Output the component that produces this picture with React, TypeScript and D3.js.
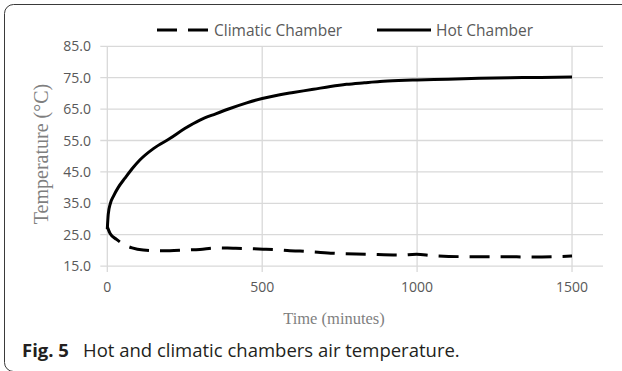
import React, { useEffect, useRef } from 'react';
import * as d3 from 'd3';

// time (minutes) and air temperature (°C)
const hotTime = [0, 3, 10, 20, 35, 57, 80, 105, 150, 203, 250, 299, 350, 396, 450, 500, 557, 600, 665, 720, 772, 830, 880, 940, 1000, 1100, 1200, 1300, 1400, 1500];
const hotTemp = [26.8, 31.5, 35, 37.3, 40, 43, 46, 48.8, 52.5, 55.7, 58.8, 61.5, 63.5, 65.2, 67, 68.4, 69.6, 70.3, 71.3, 72.2, 72.9, 73.4, 73.8, 74.1, 74.3, 74.5, 74.8, 75, 75.1, 75.2];

const climTime = [0, 9, 30, 57, 80, 116, 160, 202, 250, 299, 350, 406, 450, 503, 550, 589, 622, 680, 729, 837, 945, 998, 1052, 1160, 1268, 1375, 1500];
const climTemp = [27.5, 25.4, 23.5, 21.7, 20.8, 20.1, 19.9, 19.9, 20.1, 20.3, 20.8, 20.7, 20.6, 20.4, 20.2, 19.9, 19.8, 19.4, 19.1, 18.8, 18.5, 18.8, 18.3, 18.0, 18.0, 17.9, 18.2];

const yTicks = [15, 25, 35, 45, 55, 65, 75, 85];
const xTicks = [0, 500, 1000, 1500];
const seriesNames = ['Climatic Chamber', 'Hot Chamber'];

const W = 622;
const H = 371;

const App = () => {
  const ref = useRef<SVGSVGElement>(null);

  useEffect(() => {
    const svg = d3.select(ref.current);
    svg.selectAll('*').remove();

    const x = d3.scaleLinear().domain([0, 1600]).range([107.3, 603]);
    const y = d3.scaleLinear().domain([15, 85]).range([266.1, 46.3]);
    const grid = '#d9d9d9';
    const tickFont = "'Open Sans', sans-serif";

    // frame
    svg.append('rect')
      .attr('x', 4.5).attr('y', 4.5)
      .attr('width', 640).attr('height', 367)
      .attr('rx', 9)
      .attr('fill', 'none').attr('stroke', '#3a3a3a').attr('stroke-width', 1);

    // horizontal gridlines with small ticks on the left
    svg.append('g').selectAll('line')
      .data(yTicks).enter().append('line')
      .attr('x1', x(0) - 7).attr('x2', x(1600))
      .attr('y1', d => y(d)).attr('y2', d => y(d))
      .attr('stroke', grid).attr('stroke-width', 1.3);

    // vertical gridlines with ticks below
    svg.append('g').selectAll('line')
      .data(xTicks).enter().append('line')
      .attr('x1', d => x(d)).attr('x2', d => x(d))
      .attr('y1', y(85)).attr('y2', y(15) + 6)
      .attr('stroke', grid).attr('stroke-width', 1.3);

    // tick labels
    svg.append('g').selectAll('text')
      .data(yTicks).enter().append('text')
      .attr('x', 91).attr('y', d => y(d))
      .attr('dy', '0.36em')
      .attr('text-anchor', 'end')
      .style('font-family', tickFont).style('font-size', '14px')
      .attr('fill', '#595959')
      .text(d => d3.format('.1f')(d));

    svg.append('g').selectAll('text')
      .data(xTicks).enter().append('text')
      .attr('x', d => x(d)).attr('y', 287)
      .attr('dy', '0.36em')
      .attr('text-anchor', 'middle')
      .style('font-family', tickFont).style('font-size', '14px')
      .attr('fill', '#595959')
      .text(d => String(d));

    // axis titles
    svg.append('text')
      .attr('x', 334).attr('y', 318).attr('dy', '0.35em')
      .attr('text-anchor', 'middle')
      .style('font-family', "'Liberation Serif', serif").style('font-size', '16.5px')
      .attr('fill', '#7f7f7f')
      .text('Time (minutes)');

    svg.append('text')
      .attr('transform', 'translate(41,154) rotate(-90)')
      .attr('dy', '0.35em')
      .attr('text-anchor', 'middle')
      .style('font-family', "'Liberation Serif', serif").style('font-size', '20px')
      .attr('fill', '#7f7f7f')
      .text('Temperature (°C)');

    const line = d3.line<[number, number]>()
      .x(d => x(d[0]))
      .y(d => y(d[1]))
      .curve(d3.curveMonotoneX);

    const clim = climTime.map((t, i) => [t, climTemp[i]] as [number, number]);
    const hot = hotTime.map((t, i) => [t, hotTemp[i]] as [number, number]);

    svg.append('path')
      .attr('d', line(clim))
      .attr('fill', 'none').attr('stroke', '#000')
      .attr('stroke-width', 3).attr('stroke-dasharray', '20 11');

    svg.append('path')
      .attr('d', line(hot))
      .attr('fill', 'none').attr('stroke', '#000')
      .attr('stroke-width', 3);

    // legend
    const legend = svg.append('g');
    const items = [
      { x1: 157, x2: 209, tx: 214, dash: '20 11' },
      { x1: 377, x2: 431, tx: 436, dash: null },
    ];
    items.forEach((it, i) => {
      legend.append('line')
        .attr('x1', it.x1).attr('x2', it.x2)
        .attr('y1', 30).attr('y2', 30)
        .attr('stroke', '#000').attr('stroke-width', 3)
        .attr('stroke-dasharray', it.dash);
      legend.append('text')
        .attr('x', it.tx).attr('y', 30).attr('dy', '0.36em')
        .style('font-family', tickFont).style('font-size', '15.5px')
        .attr('fill', '#595959')
        .text(seriesNames[i]);
    });

    // caption
    const cap = svg.append('text')
      .attr('x', 22).attr('y', 357)
      .style('font-family', "'Open Sans', sans-serif").style('font-size', '18.5px')
      .attr('fill', '#231f20');
    cap.append('tspan').style('font-weight', 'bold').text('Fig. 5');
    cap.append('tspan').attr('x', 83).text('Hot and climatic chambers air temperature.');
  }, []);

  return (
    <svg ref={ref} width={W} height={H}
      style={{ position: 'absolute', left: 0, top: 0, background: '#fff' }} />
  );
};

export default App;
